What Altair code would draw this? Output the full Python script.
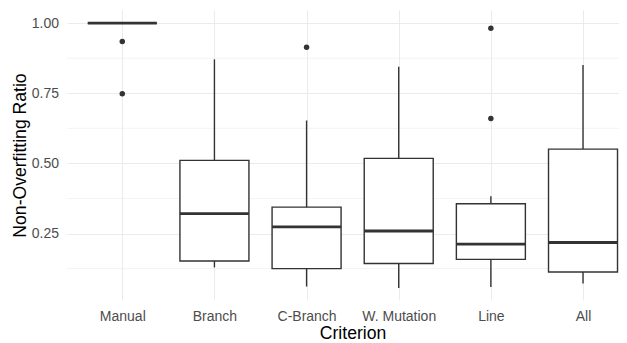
import altair as alt
import pandas as pd

criteria = ["Manual", "Branch", "C-Branch", "W. Mutation", "Line", "All"]
lower = [1.000, 0.129, 0.061, 0.056, 0.059, 0.072]
q1 = [1.000, 0.152, 0.125, 0.143, 0.158, 0.113]
median = [1.000, 0.321, 0.274, 0.259, 0.212, 0.218]
q3 = [1.000, 0.511, 0.344, 0.518, 0.356, 0.551]
upper = [1.000, 0.871, 0.653, 0.845, 0.383, 0.851]

outlier_crit = ["Manual", "Manual", "C-Branch", "Line", "Line"]
outlier_val = [0.935, 0.748, 0.914, 0.982, 0.660]

minor_grid = [0.125, 0.375, 0.625, 0.875]

stats = pd.DataFrame({"criterion": criteria, "lower": lower, "q1": q1,
                      "median": median, "q3": q3, "upper": upper})
outs = pd.DataFrame({"criterion": outlier_crit, "value": outlier_val})
minor = pd.DataFrame({"v": minor_grid})

FONT = "Liberation Sans"
DARK = "#333333"
GRID = "#EBEBEB"

xscale = alt.Scale(type="point", domain=criteria, range=[0, 571.3], padding=0.6)
yscale = alt.Scale(domain=[0.013, 1.047], nice=False, zero=False)

x_enc = alt.X("criterion:N", scale=xscale, sort=criteria, title="Criterion",
              axis=alt.Axis(grid=True, gridColor=GRID, gridWidth=1, domain=False,
                            ticks=False, labelPadding=9, labelAngle=0,
                            titlePadding=1.5, titleX=285.5))

yaxis = alt.Axis(values=[0.25, 0.5, 0.75, 1.0], format=".2f", grid=True,
                 gridColor=GRID, gridWidth=1, domain=False, ticks=False,
                 labelPadding=8.5, titlePadding=2)

minor_layer = alt.Chart(minor).mark_rule(color=GRID, strokeWidth=0.6).encode(
    y=alt.Y("v:Q", scale=yscale, axis=yaxis, title="Non-Overfitting Ratio")
)

whisk = alt.Chart(stats).mark_rule(color=DARK, strokeWidth=1.4).encode(
    x=x_enc,
    y=alt.Y("lower:Q", scale=yscale),
    y2="upper:Q",
)

box = alt.Chart(stats).mark_bar(fill="white", stroke=DARK, strokeWidth=1.4, size=69).encode(
    x=alt.X("criterion:N", scale=xscale, sort=criteria),
    y=alt.Y("q1:Q", scale=yscale),
    y2="q3:Q",
)

med = alt.Chart(stats).mark_tick(color=DARK, thickness=2.8, size=69, opacity=1).encode(
    x=alt.X("criterion:N", scale=xscale, sort=criteria),
    y=alt.Y("median:Q", scale=yscale),
)

pts = alt.Chart(outs).mark_circle(color=DARK, size=30, opacity=1).encode(
    x=alt.X("criterion:N", scale=xscale, sort=criteria),
    y=alt.Y("value:Q", scale=yscale),
)

chart = alt.layer(minor_layer, whisk, box, med, pts).properties(
    width=552, height=290,
    autosize=alt.AutoSizeParams(type="none"),
    padding={"left": 59, "top": 2, "right": 0, "bottom": 43},
).configure(
    background="white", font=FONT,
).configure_view(
    strokeWidth=0, stroke="transparent"
).configure_axis(
    labelFont=FONT, labelFontSize=14, labelColor="#4D4D4D",
    titleFont=FONT, titleFontSize=17.6, titleFontWeight="normal", titleColor="black",
)

chart.save("out.html", embed_options={"renderer": "svg", "actions": False})
